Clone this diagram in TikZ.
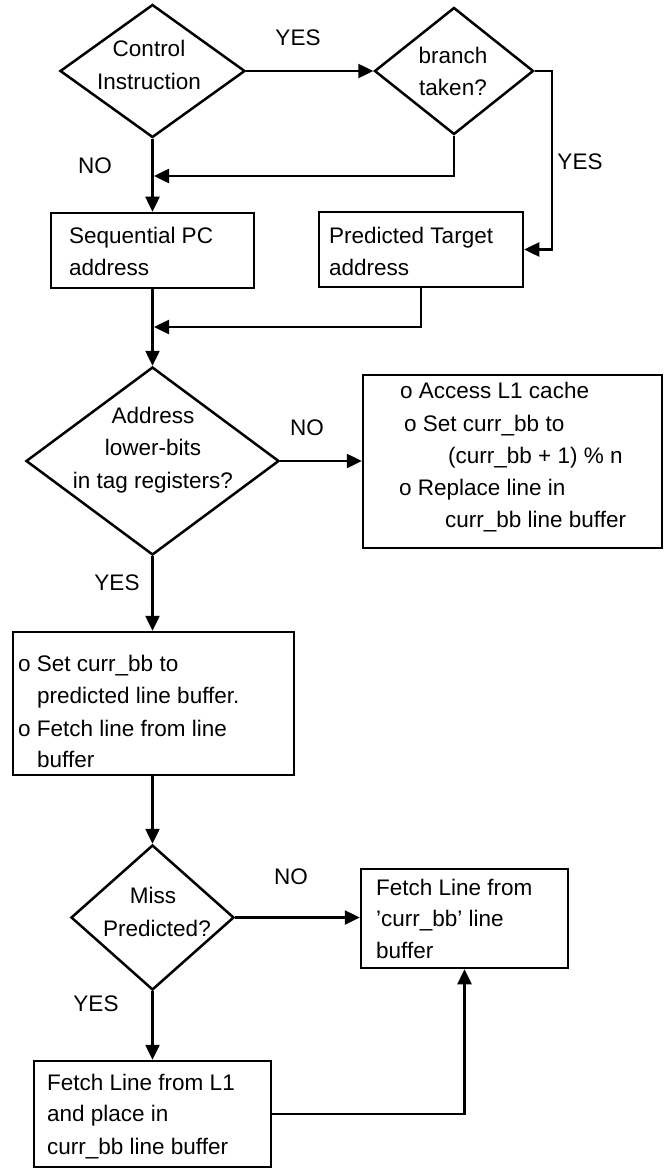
\documentclass[tikz,border=0pt]{standalone}
\usepackage{fontspec}
\setmainfont{Liberation Sans}
\usetikzlibrary{arrows.meta,shapes.geometric}
\begin{document}
\begin{tikzpicture}[x=1pt,y=-1pt,
  box/.style={draw,line width=2.5pt,inner sep=0pt,rectangle},
  dia/.style={draw,line width=2.5pt,inner sep=0pt,diamond},
  arr/.style={line width=2.5pt,-{Triangle[length=15pt,width=14pt]}},
  txt/.style={font=\fontsize{22.5pt}{27pt}\selectfont,inner sep=0pt,anchor=base west},
  ctxt/.style={font=\fontsize{22.5pt}{27pt}\selectfont,inner sep=0pt,anchor=base}]
\useasboundingbox (0,0) rectangle (664,1169);
% boxes
\node[box,minimum width=203pt,minimum height=75pt] (seq) at (152.5,250.5) {};
\node[box,minimum width=204pt,minimum height=75pt] (pred) at (421,249.5) {};
\node[box,minimum width=299pt,minimum height=173pt] (acc) at (512.5,461.5) {};
\node[box,minimum width=281pt,minimum height=143pt] (setbb) at (153.5,703.5) {};
\node[box,minimum width=207pt,minimum height=99pt] (fetchbb) at (464.5,918.5) {};
\node[box,minimum width=237pt,minimum height=106pt] (fetchl1) at (152.5,1114) {};
% diamonds
\node[dia,minimum width=185pt,minimum height=133pt] (ctrl) at (152.5,71) {};
\node[dia,minimum width=159pt,minimum height=127pt] (br) at (454,71) {};
\node[dia,minimum width=253pt,minimum height=188pt] (tag) at (152.5,461) {};
\node[dia,minimum width=163pt,minimum height=145pt] (miss) at (152.5,917.5) {};
% junctions
\coordinate (j1) at (154,176);
\coordinate (j2) at (154,327);
% connectors
\draw[arr] (ctrl.east) -- (br.west);
\draw[arr] (br.east) -- ++(17,0) |- (pred.east);
\draw[arr] (br.south) |- (j1);
\draw[arr] (ctrl.south) -- (seq.north);
\draw[arr] (pred.south) |- (j2);
\draw[arr] (seq.south) -- (tag.north);
\draw[arr] (tag.east) -- (tag.east -| acc.west);
\draw[arr] (tag.south) -- (tag.south |- setbb.north);
\draw[arr] (setbb.south -| miss.north) -- (miss.north);
\draw[arr] (miss.east) -- (miss.east -| fetchbb.west);
\draw[arr] (miss.south) -- (fetchl1.north);
\draw[arr] (fetchl1.east) -| (fetchbb.south);
% diamond texts
\node[ctxt] (t1) at (149,57) {Control};
\node[ctxt] (t2) at (149,90) {Instruction};
\node[ctxt] (t3) at (453,64) {branch};
\node[ctxt] (t4) at (453,96) {taken?};
\node[ctxt] (t5) at (153,423) {Address};
\node[ctxt] (t6) at (153,455) {lower-bits};
\node[ctxt] (t7) at (153,488) {in tag registers?};
\node[ctxt] (t8) at (153,903) {Miss};
\node[ctxt] (t9) at (157,936) {Predicted?};
% labels
\node[ctxt] (l1) at (298,46) {YES};
\node[ctxt] (l2) at (580,170) {YES};
\node[ctxt] (l3) at (95,174) {NO};
\node[ctxt] (l4) at (307,435) {NO};
\node[ctxt] (l5) at (117,590) {YES};
\node[ctxt] (l6) at (291,884) {NO};
\node[ctxt] (l7) at (96,1011) {YES};
% box texts
\node[txt] (s1) at (69,243) {Sequential PC};
\node[txt] (s2) at (69,275) {address};
\node[txt] (p1) at (329,243) {Predicted Target};
\node[txt] (p2) at (329,275) {address};
\node[txt] (a1) at (400,398) {o Access L1 cache};
\node[txt] (a2) at (404,431) {o Set curr\_bb to};
\node[txt] (a3) at (448,463) {(curr\_bb + 1) \% n};
\node[txt] (a4) at (399,495) {o Replace line in};
\node[txt] (a5) at (445,527) {curr\_bb line buffer};
\node[txt] (b1) at (18,671) {o Set curr\_bb to};
\node[txt] (b2) at (37,703) {predicted line buffer.};
\node[txt] (b3) at (18,736) {o Fetch line from line};
\node[txt] (b4) at (37,767) {buffer};
\node[txt] (c1) at (376,895) {Fetch Line from};
\node[txt] (c2) at (376,926) {’curr\_bb’ line};
\node[txt] (c3) at (376,958) {buffer};
\node[txt] (d1) at (47,1090) {Fetch Line from L1};
\node[txt] (d2) at (47,1121) {and place in};
\node[txt] (d3) at (47,1154) {curr\_bb line buffer};
\end{tikzpicture}
\end{document}
